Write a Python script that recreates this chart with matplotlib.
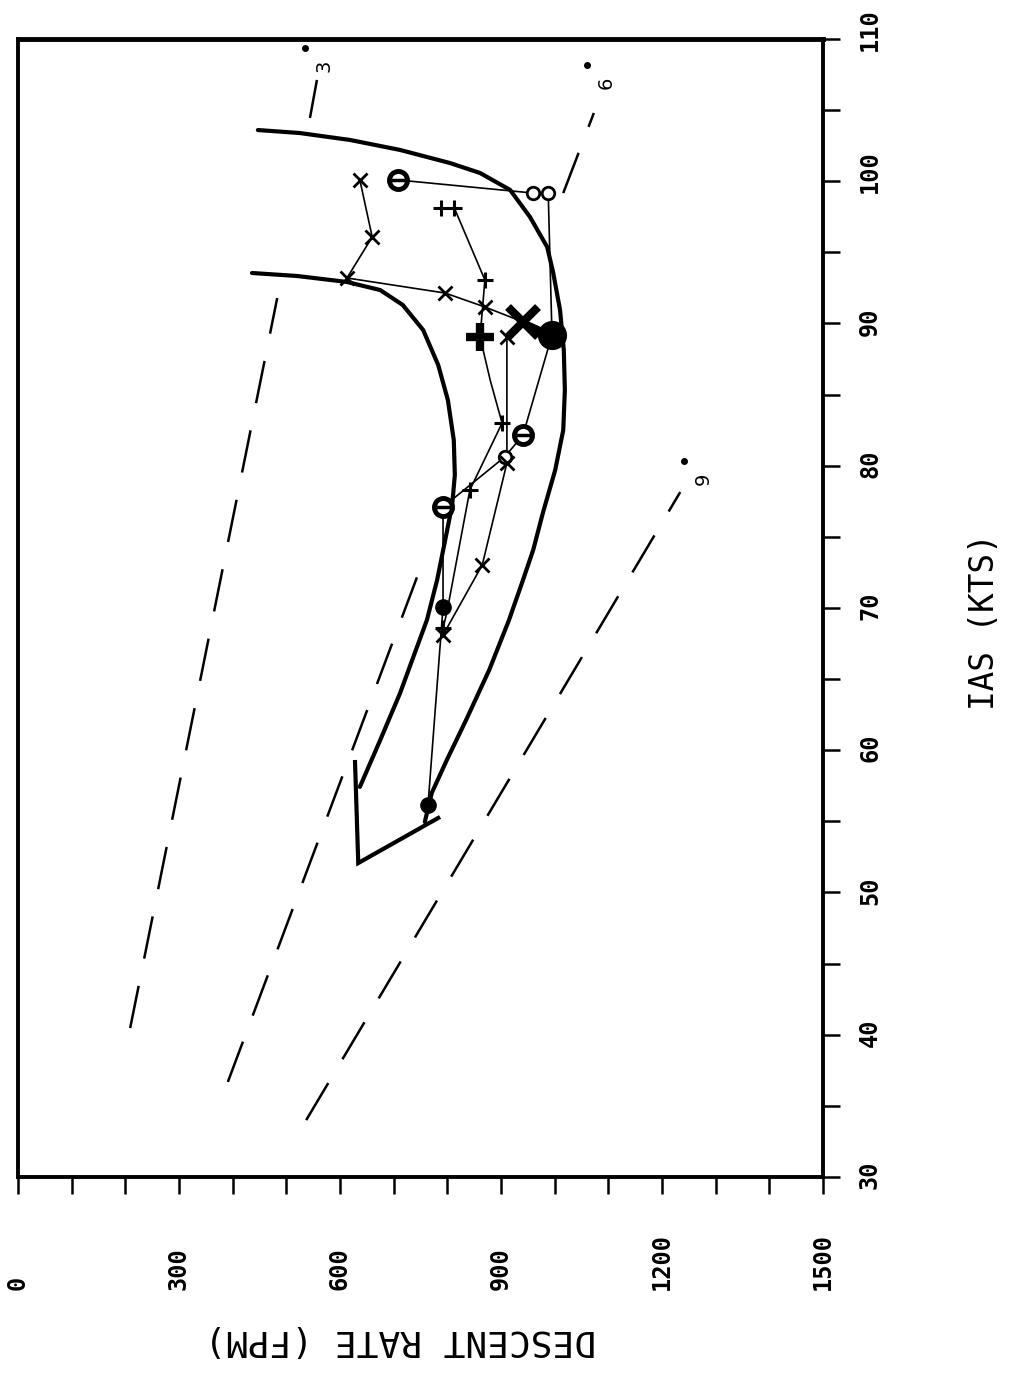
import numpy as np
import matplotlib
matplotlib.use("Agg")
import matplotlib.pyplot as plt

plt.rcParams['font.family'] = ['DejaVu Sans Mono']
plt.rcParams['lines.scale_dashes'] = False

# chart is drawn "on its side": horizontal = descent rate (fpm), vertical = IAS (kts)

# envelope boundaries
left_rod = [436, 520, 613, 675, 717, 755, 783, 801, 812, 814, 809, 796, 781, 762, 738, 712, 675, 637]
left_ias = [93.55, 93.34, 92.92, 92.35, 91.30, 89.54, 87.08, 84.62, 81.81, 79.35, 77.24, 74.78,
            71.97, 69.16, 66.70, 64.02, 60.72, 57.42]
right_rod = [447, 525, 619, 712, 805, 861, 917, 954, 986, 997, 1010, 1017, 1019, 1016, 1001, 978,
             960, 941, 915, 878, 835, 799, 771, 758]
right_ias = [103.6, 103.39, 102.9, 102.2, 101.28, 100.58, 99.39, 97.49, 95.38, 93.62, 90.95, 88.14,
             85.33, 82.51, 79.70, 76.68, 74.08, 71.97, 69.16, 65.64, 62.13, 59.31, 57.0, 54.96]
corner_rod = [628, 634, 783]
corner_ias = [59.17, 52.07, 55.24]

# glide slope reference lines (each a list of segments)
gs_names = ['3', '6', '9']
gs_rod = [[[209, 483], [544, 557]], [[391, 745], [1016, 1073]], [[537, 1234]]]
gs_ias = [[[40.47, 91.79], [104.45, 107.12]], [[36.68, 72.32], [99.17, 104.8]], [[34.0, 78.15]]]
gs_dot_rod = [535, 1060, 1241]
gs_dot_ias = [109.37, 108.17, 80.33]

# flight data
o_rod = [708, 960, 988, 995, 941, 907, 792, 792, 764]
o_ias = [100.09, 99.17, 99.17, 89.19, 82.16, 80.62, 77.10, 70.07, 56.15]
x_rod = [637, 660, 613, 796, 870, 941, 911, 911, 865, 792]
x_ias = [100.09, 96.08, 93.2, 92.14, 91.16, 90.11, 89.05, 80.19, 73.02, 68.1]
p_rod = [788, 813, 870, 861, 880, 902, 842, 799, 792]
p_ias = [98.12, 98.12, 93.06, 89.05, 86.0, 83.0, 78.3, 69.65, 68.6]

rod_ticks = np.arange(0, 1501, 100)
rod_labels = [0, 300, 600, 900, 1200, 1500]
ias_ticks = np.arange(30, 111, 5)
ias_labels = [30, 40, 50, 60, 70, 80, 90, 100, 110]

fig = plt.figure(figsize=(10.09, 13.76), dpi=100)
ax = fig.add_axes([18/1009, 1-1177/1376, 805/1009, 1138/1376])

# dashed glide slope lines
for segs_r, segs_i in zip(gs_rod, gs_ias):
    for r, i in zip(segs_r, segs_i):
        ax.plot(r, i, color='k', lw=1.8, dashes=(31, 20))
ax.plot(gs_dot_rod, gs_dot_ias, 'o', color='k', ms=4)
for n, r, i in zip(gs_names, gs_dot_rod, gs_dot_ias):
    ax.annotate(n, (r, i), xytext=(7, -13), textcoords='offset points', rotation=90,
                ha='left', va='center', fontsize=14, family='DejaVu Sans')

# envelope
ax.plot(left_rod, left_ias, color='k', lw=3, solid_capstyle='round', solid_joinstyle='round')
ax.plot(right_rod, right_ias, color='k', lw=3, solid_capstyle='round', solid_joinstyle='round')
ax.plot(corner_rod, corner_ias, color='k', lw=3, solid_joinstyle='miter')

# data lines
ax.plot(o_rod, o_ias, color='k', lw=1.2)
ax.plot(x_rod, x_ias, color='k', lw=1.2)
ax.plot(p_rod, p_ias, color='k', lw=1.2)
ax.plot([x_rod[5], o_rod[3]], [x_ias[5], o_ias[3]], color='k', lw=4)

# circle markers
o_style = ['theta', 'hollow', 'hollow', 'big', 'theta', 'hollow', 'theta', 'filled', 'filled']
for r, i, s in zip(o_rod, o_ias, o_style):
    if s == 'big':
        ax.plot(r, i, 'o', color='k', ms=20)
    elif s == 'filled':
        ax.plot(r, i, 'o', color='k', ms=11)
    elif s == 'theta':
        ax.plot(r, i, 'o', mfc='white', mec='k', mew=3.5, ms=13)
        ax.plot(r, i, '_', color='k', mew=2.5, ms=10)
    else:
        ax.plot(r, i, 'o', mfc='white', mec='k', mew=2, ms=9)

# x markers
for k, (r, i) in enumerate(zip(x_rod, x_ias)):
    if k == 5:
        ax.plot(r, i, 'x', color='k', ms=22, mew=6)
    else:
        ax.plot(r, i, 'x', color='k', ms=10, mew=2)

# plus markers
p_marked = [0, 1, 2, 3, 5, 6, 8]
for k in p_marked:
    if k == 3:
        ax.plot(p_rod[k], p_ias[k], '+', color='k', ms=20, mew=6)
    else:
        ax.plot(p_rod[k], p_ias[k], '+', color='k', ms=12, mew=2.2)

ax.set_xlim(0, 1500)
ax.set_ylim(30, 110)
ax.set_xticks(rod_ticks)
ax.set_yticks(ias_ticks)
ax.yaxis.tick_right()
ax.tick_params(axis='x', direction='out', length=12, width=1.8, labelbottom=False)
ax.tick_params(axis='y', direction='out', length=12, width=1.8, labelright=False)
for side in ['left', 'bottom', 'right']:
    ax.spines[side].set_linewidth(2.8)
ax.spines['top'].set_linewidth(3.5)

for v in rod_labels:
    ax.text(v, -0.0993, str(v), transform=ax.get_xaxis_transform(), rotation=90,
            ha='center', va='bottom', fontsize=17, fontweight='bold')
for v in ias_labels:
    ax.text(1.0584, v - 0.85, str(v), transform=ax.get_yaxis_transform(), rotation=90,
            ha='center', va='bottom', fontsize=17, fontweight='bold')

fig.text(400/1009, 1-1340/1376, 'DESCENT RATE (FPM)', rotation=180, ha='center', va='center',
         fontsize=26)
fig.text(985/1009, 1-622/1376, 'IAS (KTS)', rotation=90, ha='center', va='center', fontsize=23.5)

fig.savefig('out.png', dpi=100)
